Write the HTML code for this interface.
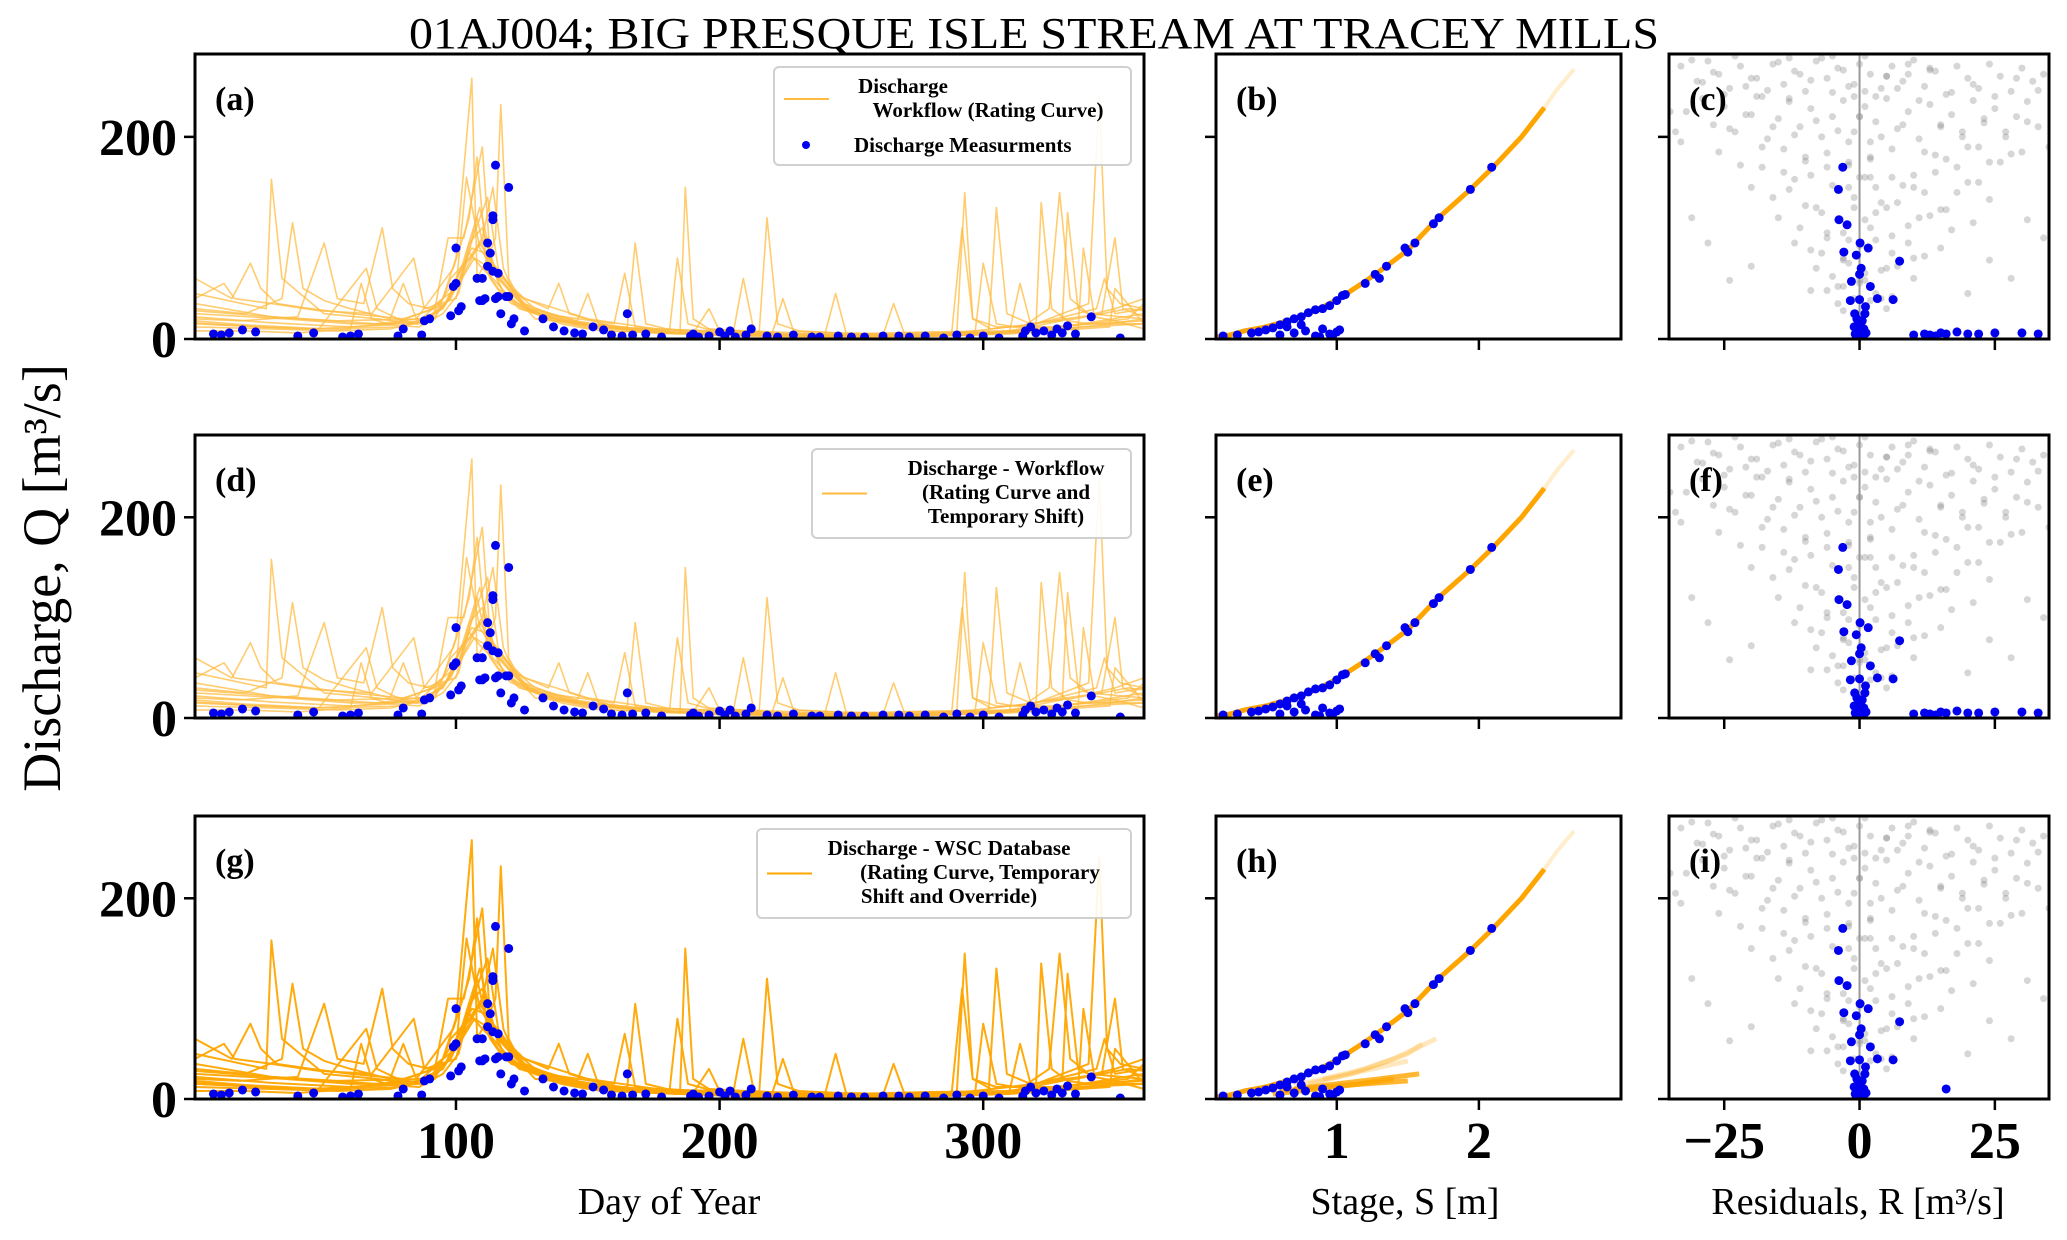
<!DOCTYPE html>
<html><head><meta charset="utf-8"><style>
html,body{margin:0;padding:0;background:#fff;}
svg{display:block;font-family:"Liberation Serif",serif;}
</style></head><body>
<svg id="fig" width="2067" height="1240" viewBox="0 0 2067 1240" xmlns="http://www.w3.org/2000/svg">
<text x="1034" y="48" text-anchor="middle" font-size="44" textLength="1250" lengthAdjust="spacingAndGlyphs">01AJ004; BIG PRESQUE ISLE STREAM AT TRACEY MILLS</text>
<text transform="translate(60,578) rotate(-90)" text-anchor="middle" font-size="54">Discharge, Q [m³/s]</text>
<text x="669" y="1214" text-anchor="middle" font-size="38">Day of Year</text>
<text x="1405" y="1214" text-anchor="middle" font-size="38">Stage, S [m]</text>
<text x="1858" y="1214" text-anchor="middle" font-size="38">Residuals, R [m³/s]</text>
<g id="plots"></g>
</svg>
<script>
// ---- data ----
const hydroDays = [
[1,28,30,34,50,70,85,95,100,106,108,112,115,117,120,125,130,150,160,185,187,190,196,210,250,270,290,293,296,303,320,340,344,347,352,361],
[1,15,22,26,32,45,60,80,92,97,103,110,113,118,125,140,150,165,168,172,180,200,230,260,288,292,296,305,315,325,329,333,340,361],
[1,20,34,38,42,50,60,75,80,85,99,105,108,112,116,120,135,155,180,205,209,213,220,240,270,310,336,338,342,350,361],
[1,18,40,50,55,65,72,76,82,90,100,104,109,114,118,126,145,160,190,196,200,220,224,228,255,275,297,300,305,312,330,355,361],
[1,25,48,66,70,78,85,95,101,107,112,116,122,135,139,143,160,181,184,188,195,225,262,266,270,302,305,309,318,345,350,353,361],
[1,30,55,75,92,98,105,110,114,118,122,128,146,150,154,175,200,230,240,244,248,280,310,314,318,335,355,361],
[1,20,40,60,64,68,75,86,95,101,108,113,117,121,133,160,164,168,195,215,250,285,320,322,326,332,340,361],
[1,12,16,30,48,68,84,88,100,105,110,116,120,124,140,170,200,215,218,222,230,250,280,310,330,332,336,342,350,361],
[1,35,60,88,96,102,109,114,120,126,150,176,210,235,260,290,320,343,346,350,361],
[1,30,55,90,100,106,111,117,123,130,175,205,230,250,280,300,325,348,350,361],
[1,20,50,80,95,103,109,115,121,130,145,170,200,240,280,310,330,345,361],
[1,40,70,92,100,107,113,118,124,132,150,180,220,260,300,320,340,361],
[1,30,60,88,98,104,111,116,122,128,140,165,190,230,270,305,335,361],
[1,25,45,75,96,105,110,114,119,126,138,160,195,245,285,315,338,361]
];
const hydroQ = [
[45,30,158,60,25,20,15,40,80,258,60,80,100,232,60,35,25,12,8,5,150,20,10,8,4,3,6,145,20,10,15,35,240,50,35,30],
[60,40,75,50,35,30,25,20,30,100,100,190,80,45,30,15,10,12,95,15,10,6,4,3,5,110,20,12,12,30,145,40,25,20],
[30,25,40,115,50,38,30,20,55,20,70,120,180,65,50,40,20,8,6,4,60,8,5,3,2,5,10,90,25,30,40],
[20,18,22,95,40,35,110,50,35,30,50,160,90,70,60,35,15,10,6,30,8,6,40,8,5,4,8,75,15,12,12,20,35],
[15,12,10,70,30,20,15,30,55,105,140,70,45,30,55,25,12,8,80,15,10,5,4,35,6,6,130,25,15,25,100,30,22],
[12,10,8,10,20,60,80,100,150,70,45,30,18,45,15,8,4,3,5,45,6,4,8,55,15,20,30,28],
[8,8,6,10,55,20,14,12,25,45,120,60,45,35,25,15,65,12,6,4,3,3,10,135,30,18,15,15],
[40,55,40,35,28,25,80,30,40,95,110,55,40,30,18,10,8,5,120,15,8,5,7,8,18,125,30,22,18,10],
[25,20,15,15,35,70,130,75,55,40,20,10,6,4,4,6,15,30,60,25,30],
[35,22,18,20,60,90,85,60,40,20,6,3,2,2,3,5,8,12,50,15],
[18,14,10,12,30,65,95,70,50,30,18,8,4,3,3,6,10,14,20],
[28,20,15,22,50,80,70,55,38,25,14,6,3,2,4,9,16,25],
[22,16,12,18,40,75,100,60,42,28,18,9,5,3,3,7,14,18],
[16,12,10,14,35,85,70,60,45,30,20,10,5,2,3,8,12,15]
];
const measDay = [8,11,14,19,24,40,46,57,60,63,78,80,87,88,90,98,99,100,100,101,102,108,109,110,110,111,112,112,113,114,114,114,115,115,116,116,117,119,120,120,121,122,126,133,137,141,145,148,152,156,159,163,165,167,172,178,189,190,192,196,200,202,204,206,210,212,218,222,228,235,238,245,250,255,262,268,272,278,285,290,295,300,306,315,316,318,320,323,326,328,330,332,335,341,352];
const measQ = [5,4,6,9,7,3,6,2,3,5,3,10,4,18,20,23,52,55,90,28,32,60,38,38,60,40,72,95,85,67,118,122,172,40,42,65,25,42,150,42,15,20,8,20,12,8,6,5,12,9,4,3,25,4,5,2,3,5,2,3,7,3,8,2,4,10,3,2,4,2,2,3,2,2,3,3,2,3,1,4,1,3,1,3,8,12,6,8,4,10,6,13,5,22,1];
const curveStage = [0.15,0.25,0.35,0.5,0.65,0.8,0.95,1.06,1.2,1.35,1.5,1.7,1.94,2.1,2.3,2.46];
const curveQ = [2,4,8,12,18,25,35,44,57,72,88,118,148,170,200,229];
const faintStage = [2.46,2.55,2.67];
const faintQ = [229,247,267];
const mStage = [0.2,0.3,0.4,0.45,0.5,0.55,0.6,0.65,0.7,0.75,0.8,0.85,0.9,0.95,1.0,1.04,1.06,1.2,1.27,1.3,1.35,1.48,1.5,1.55,1.68,1.72,1.94,2.09,0.6,0.7,0.78,0.85,0.9,0.95,1.0,0.65,0.75,0.88,0.97,1.02];
const mQ = [3,4,6,7,9,11,14,17,20,22,26,29,30,33,38,43,44,55,64,60,72,90,86,95,114,120,148,170,4,6,8,3,10,5,7,12,14,2,3,9];
const hStage = [[0.6,0.9,1.2,1.5],[0.7,1.0,1.3,1.58],[0.55,0.8,1.1,1.4],[0.7,1.0,1.25,1.5],[0.9,1.2,1.5,1.6],[0.8,1.1,1.4,1.7]];
const hQ = [[8,12,15,18],[10,15,20,25],[5,9,14,20],[14,22,30,38],[20,30,45,55],[15,25,40,60]];
const resR = [-3.1,-3.9,-3.8,-2.3,0.1,1.6,-2.9,-0.6,7.4,0.3,0,-1.5,2,-1.7,0,3.3,6.2,1.1,-0.9,1,-0.5,0.5,0.2,-1,0.8,-0.3,1.2,-0.8,0.4,0,-0.6,0.7];
const resQ = [170,148,118,113,95,90,86,83,77,70,64,57,52,38,39,40,39,32,25,25,20,18,14,12,10,8,6,5,4,3,2,1];
const resLowR = [10,12,14,15,16,18,22,25,30,33,13,20];
const resLowQ = [4,5,3,6,5,7,5,6,6,5,4,5];
const cloudR = [-33,-30,-28,-26,-24,-22,-20,-18,-16,-14,-12,-10,-8,-6,-4,-2,0,2,4,6,8,10,12,14,16,18,20,22,24,26,28,30,32,34,-32,-29,-27,-25,-23,-21,-19,-17,-15,-13,-11,-9,-7,-5,-3,-1,1,3,5,7,9,11,13,15,17,19,21,23,25,27,29,31,33,-26,-22,-18,-14,-10,-6,-2,2,6,10,14,18,22,26,30,-20,-16,-12,-8,-4,0,4,8,12,16,20,24,-15,-11,-7,-3,1,5,9,13,17,21,-12,-9,-6,-3,0,3,6,9,12,15,-8,-5,-2,1,4,7,10,-6,-3,0,3,6,-4,-1,2,5,-3,0,3,-2,1,-1,2,-34,-31,31,34,-28,28,-24,24,-20,20,-9,9,-13,13,-5,5,
-31,-27,-23,-19,-15,-11,-7,-3,1,5,9,13,17,21,25,29,33,-29,-25,-21,-17,-13,-9,-5,-1,3,7,11,15,19,23,27,31,-24,-20,-16,-12,-8,-4,0,4,8,12,16,20,24,28,-18,-14,-10,-6,-2,2,6,10,14,18,22,-13,-9,-5,-1,3,7,11,15,-10,-6,-2,2,6,10,-7,-3,1,5,-4,0,4,-2,2,-1,1,0,-35,35,-33,33,-30,30,-26,26];
const cloudQ = [270,255,275,262,248,270,258,240,272,252,265,245,275,258,268,250,272,262,248,270,255,276,250,265,242,270,258,248,272,260,245,268,255,262,225,238,212,230,205,222,240,198,218,235,210,228,200,220,236,205,230,215,238,208,225,198,232,210,222,200,236,214,228,205,220,235,210,185,172,190,165,180,170,195,178,188,162,182,170,190,175,185,150,140,158,130,148,160,135,152,145,128,155,138,120,110,125,105,118,130,112,122,108,115,95,88,100,80,92,98,85,95,82,90,70,62,75,58,68,72,60,48,52,55,45,42,35,40,38,30,28,22,150,175,160,140,195,205,120,118,100,95,60,58,78,72,45,48,
262,278,266,280,260,276,264,280,258,274,262,278,266,280,260,272,268,244,252,240,258,246,254,242,250,246,238,256,244,252,240,248,236,212,205,218,200,215,208,222,210,202,216,206,220,200,212,185,178,190,175,183,170,188,176,184,172,180,160,150,165,145,155,148,162,152,130,125,135,120,128,132,105,98,110,102,80,85,78,65,70,52,58,40,150,160,240,245,220,225,190,195];
const dayTicks = [100,200,300];
const stageTicks = [1,2];
const resTicks = [-25,0,25];
const qTicks = [0,200];

// ---- layout ----
const NS='http://www.w3.org/2000/svg';
const plots=document.getElementById('plots');
const rows=[{t:54,b:339,tag:['a','b','c']},{t:435,b:718,tag:['d','e','f']},{t:816,b:1099,tag:['g','h','i']}];
const cols=[{l:195,r:1144,d0:1,d1:361},{l:1216,r:1621,d0:0.15,d1:3.0},{l:1669,r:2049,d0:-35.2,d1:35}];
const qMax=282;
function el(tag,attrs,parent){const e=document.createElementNS(NS,tag);for(const k in attrs)e.setAttribute(k,attrs[k]);(parent||plots).appendChild(e);return e;}
function sx(c,v){return cols[c].l+(v-cols[c].d0)/(cols[c].d1-cols[c].d0)*(cols[c].r-cols[c].l);}
function sy(r,q){return rows[r].b-q/qMax*(rows[r].b-rows[r].t);}

rows.forEach((R,ri)=>{
  cols.forEach((C,ci)=>{
    const g=el('g',{});
    
    
    const cid='clip'+ri+ci;
    const cp=el('clipPath',{id:cid},g);
    el('rect',{x:C.l,y:R.t,width:C.r-C.l,height:R.b-R.t},cp);
    const dg=el('g',{'clip-path':'url(#'+cid+')'},g);
    if(ci===0){
      const color = ri===2 ? '#ffa500' : '#ffbb40';
      const op = ri===2 ? 0.95 : 0.75;
      hydroDays.forEach((days,si)=>{
        const pts=days.map((d,k)=>sx(0,d).toFixed(1)+','+sy(ri,hydroQ[si][k]).toFixed(1)).join(' ');
        const pl=el('polyline',{points:pts,fill:'none',stroke:color,'stroke-width':ri===2?2:1.6,opacity:op,'stroke-linejoin':'round'},dg);
        
        
      });
      measDay.forEach((d,k)=>{
        const c=el('circle',{cx:sx(0,d),cy:sy(ri,measQ[k]),r:4.5,fill:'#0000ee'},dg);
        
        
      });
    } else if(ci===1){
      if(ri===2){
        hStage.forEach((st,si)=>{
          const pts=st.map((s,k)=>sx(1,s).toFixed(1)+','+sy(ri,hQ[si][k]).toFixed(1)).join(' ');
          const pl=el('polyline',{points:pts,fill:'none',stroke:'#ffa500','stroke-width':5,opacity:si<3?0.8:0.25},dg);
          
          
        });
      }
      const pts=curveStage.map((s,k)=>sx(1,s).toFixed(1)+','+sy(ri,curveQ[k]).toFixed(1)).join(' ');
      const rc=el('polyline',{points:pts,fill:'none',stroke:'#ffa500','stroke-width':5,'stroke-linejoin':'round'},dg);
      
      
      const fp=faintStage.map((s,k)=>sx(1,s).toFixed(1)+','+sy(ri,faintQ[k]).toFixed(1)).join(' ');
      const fc=el('polyline',{points:fp,fill:'none',stroke:'#ffa500','stroke-width':4,opacity:0.2},dg);
      
      
      mStage.forEach((s,k)=>{
        const c=el('circle',{cx:sx(1,s),cy:sy(ri,mQ[k]),r:4.5,fill:'#0000ee'},dg);
        
        
      });
    } else {
      cloudR.forEach((r,k)=>{
        const c=el('circle',{cx:sx(2,r),cy:sy(ri,cloudQ[k]),r:3.5,fill:'#777',opacity:0.3},dg);
        
        
      });
      const zl=el('line',{x1:sx(2,0),x2:sx(2,0),y1:R.t,y2:R.b,stroke:'#999','stroke-width':2},dg);
      
      
      resR.forEach((r,k)=>{
        const c=el('circle',{cx:sx(2,r),cy:sy(ri,resQ[k]),r:4.5,fill:'#0000ee'},dg);
        
        
      });
      const lr = ri===2 ? [16] : resLowR;
      const lq = ri===2 ? [10] : resLowQ;
      lr.forEach((r,k)=>{
        const c=el('circle',{cx:sx(2,r),cy:sy(ri,lq[k]),r:4.5,fill:'#0000ee'},dg);
        
        
      });
    }
    const fr=el('rect',{x:C.l,y:R.t,width:C.r-C.l,height:R.b-R.t,fill:'none',stroke:'#000','stroke-width':3},g);
    
    
    const lab=el('text',{x:C.l+20,y:R.t+56,'font-size':34,'font-weight':'bold'},g);
    lab.textContent='('+R.tag[ci]+')';
    
    
    qTicks.forEach(q=>{
      el('line',{x1:C.l-11,x2:C.l,y1:sy(ri,q),y2:sy(ri,q),stroke:'#000','stroke-width':2.5},g);
      if(ci===0){
        const t=el('text',{x:C.l-18,y:sy(ri,q)+18,'text-anchor':'end','font-size':52,'font-weight':'bold'},g);
        t.textContent=q;
        
        
      }
    });
    const ticks=[dayTicks,stageTicks,resTicks][ci];
    ticks.forEach(v=>{
      el('line',{x1:sx(ci,v),x2:sx(ci,v),y1:R.b,y2:R.b+11,stroke:'#000','stroke-width':2.5},g);
      if(ri===2){
        const t=el('text',{x:sx(ci,v),y:1158,'text-anchor':'middle','font-size':52,'font-weight':'bold'},g);
        t.textContent=v<0?'\u2212'+(-v):v;
        
        
      }
    });
  });
});

// legends
function legend(x,y,w,h,lines,color,hasDot,name){
  const g=el('g',{});
  
  
  el('rect',{x:x,y:y,width:w,height:h,rx:5,fill:'#fff',stroke:'#ccc','stroke-width':2,opacity:0.9},g);
  el('line',{x1:x+10,x2:x+55,y1:y+(hasDot?32:h/2),y2:y+(hasDot?32:h/2),stroke:color,'stroke-width':2},g);
  lines.forEach((l,i)=>{
    const t=el('text',{x:l[1],y:y+26+i*24,'font-size':21,'font-weight':'bold','text-anchor':'middle'},g);
    t.textContent=l[0];
  });
  if(hasDot){
    el('circle',{cx:x+32,cy:y+78,r:4,fill:'#0000ee'},g);
    const t=el('text',{x:x+80,y:y+85,'font-size':21,'font-weight':'bold'},g);
    t.textContent='Discharge Measurments';
  }
}
legend(774,67,357,98,[['Discharge',903],[' Workflow (Rating Curve)',988]],'#ffbb40',true,'legend-a');
legend(812,449,319,89,[['Discharge - Workflow',1006],['(Rating Curve and',1006],['Temporary Shift)',1006]],'#ffbb40',false,'legend-d');
legend(757,829,374,89,[['Discharge - WSC Database',949],['(Rating Curve, Temporary',980],['Shift and Override)',949]],'#ffa500',false,'legend-g');
</script>
</body></html>
